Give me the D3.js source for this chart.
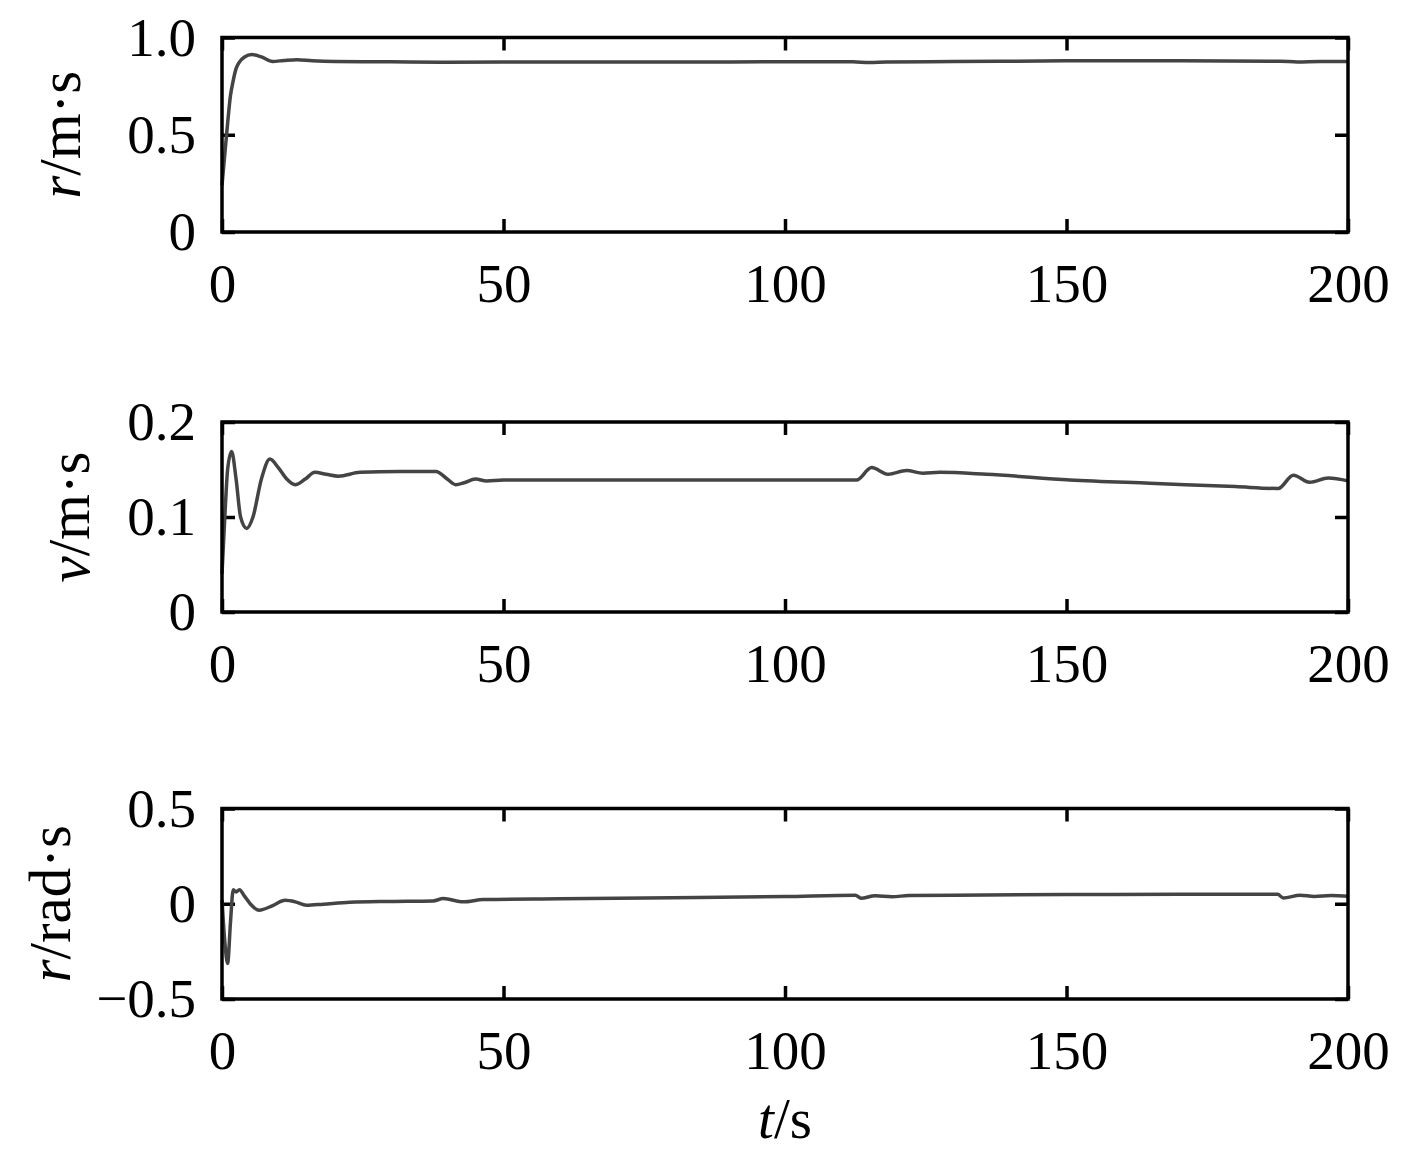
<!DOCTYPE html>
<html>
<head>
<meta charset="utf-8">
<script src="https://cdn.jsdelivr.net/npm/d3@7/dist/d3.min.js"></script>
<style>
  html, body { margin: 0; padding: 0; background: #fff; }
  svg { display: block; }
  text { font-family: 'Liberation Serif', 'Times New Roman', serif; fill: #000; }
</style>
</head>
<body>
<svg id="chart" width="1417" height="1157"></svg>
<script>
// ---------- data ----------
const xTicks = [0, 50, 100, 150, 200];
const xTickLabels = ["0", "50", "100", "150", "200"];

// panel 1: surge speed
const t1 = [0, 0.5, 1, 1.5, 2, 2.5, 3, 4, 5.3, 7, 9, 11, 13.3, 16, 20, 30, 40, 60, 80, 100, 112, 115, 118, 130, 150, 170, 188, 191, 195, 200];
const u1 = [0.24, 0.40, 0.56, 0.70, 0.78, 0.84, 0.87, 0.90, 0.912, 0.90, 0.877, 0.882, 0.886, 0.880, 0.876, 0.875, 0.873, 0.874, 0.874, 0.875, 0.875, 0.871, 0.874, 0.876, 0.880, 0.880, 0.878, 0.874, 0.876, 0.876];
const y1Ticks = [0, 0.5, 1.0];
const y1TickLabels = ["0", "0.5", "1.0"];

// panel 2: sway speed
const t2 = [0, 0.5, 1, 1.7, 2.5, 3.3, 4.4, 5.5, 7, 8.5, 10, 11.5, 13, 14.8, 16.5, 18.5, 20.7, 24.5, 31.6, 38, 40, 41.5, 43, 45, 47, 50, 60, 80, 100, 112.7, 115.4, 118.3, 121.6, 124.5, 127.5, 135.8, 150.6, 164.8, 180, 187.6, 190.3, 193.2, 196.5, 200];
const v2 = [0.04, 0.10, 0.15, 0.169, 0.14, 0.10, 0.088, 0.10, 0.14, 0.161, 0.152, 0.14, 0.134, 0.14, 0.147, 0.145, 0.143, 0.147, 0.148, 0.148, 0.140, 0.134, 0.136, 0.140, 0.138, 0.139, 0.139, 0.139, 0.139, 0.139, 0.152, 0.145, 0.149, 0.146, 0.147, 0.145, 0.139, 0.1355, 0.132, 0.130, 0.144, 0.1365, 0.141, 0.138];
const y2Ticks = [0, 0.1, 0.2];
const y2TickLabels = ["0", "0.1", "0.2"];

// panel 3: yaw rate
const t3 = [0, 0.5, 1.0, 1.5, 2.0, 2.5, 3.1, 4, 5, 6.6, 9, 11.2, 13, 15, 18, 22.7, 30, 37.5, 39.3, 42.9, 46.4, 60, 80, 100, 112.5, 113.5, 116, 119, 122, 130, 150, 170, 187.5, 188.5, 191.5, 194, 197, 200];
const r3 = [0.02, -0.2, -0.313, -0.1, 0.074, 0.062, 0.074, 0.04, 0.0, -0.034, -0.01, 0.018, 0.01, -0.008, -0.002, 0.008, 0.012, 0.015, 0.027, 0.01, 0.022, 0.026, 0.032, 0.038, 0.045, 0.029, 0.042, 0.037, 0.043, 0.045, 0.048, 0.05, 0.05, 0.03, 0.045, 0.038, 0.043, 0.04];
const y3Ticks = [-0.5, 0, 0.5];
const y3TickLabels = ["\u22120.5", "0", "0.5"];

// ---------- layout ----------
const svg = d3.select("#chart");
const left = 222, right = 1348;
const x = d3.scaleLinear().domain([0, 200]).range([left, right]);

const panels = [
  { t: t1, v: u1, top: 37.5, bottom: 232, dom: [0, 1], ticks: y1Ticks, labels: y1TickLabels,
    ylab: ["r", "/m\u00b7s"], labX: 80 },
  { t: t2, v: v2, top: 422, bottom: 612, dom: [0, 0.2], ticks: y2Ticks, labels: y2TickLabels,
    ylab: ["v", "/m\u00b7s"], labX: 89 },
  { t: t3, v: r3, top: 808.5, bottom: 999, dom: [-0.5, 0.5], ticks: y3Ticks, labels: y3TickLabels,
    ylab: ["r", "/rad\u00b7s"], labX: 70 }
];

const tickFont = 55, labelFont = 59;

panels.forEach(p => {
  const y = d3.scaleLinear().domain(p.dom).range([p.bottom, p.top]);
  const g = svg.append("g");

  const styleAxis = sel => {
    sel.select(".domain").remove();
    sel.selectAll(".tick line").attr("stroke", "#000").attr("stroke-width", 3.5);
    sel.selectAll(".tick text").attr("font-size", tickFont).attr("font-family", "'Liberation Serif', serif").attr("fill", "#000");
  };

  g.append("g").attr("transform", `translate(0,${p.bottom})`)
    .call(d3.axisBottom(x).tickValues(xTicks).tickFormat((d, i) => xTickLabels[i]).tickSizeInner(-13).tickSizeOuter(0).tickPadding(31))
    .call(styleAxis);
  g.append("g").attr("transform", `translate(0,${p.top})`)
    .call(d3.axisTop(x).tickValues(xTicks).tickFormat("").tickSizeInner(-13).tickSizeOuter(0))
    .call(styleAxis);
  g.append("g").attr("transform", `translate(${left},0)`)
    .call(d3.axisLeft(y).tickValues(p.ticks).tickFormat((d, i) => p.labels[i]).tickSizeInner(-13).tickSizeOuter(0).tickPadding(26))
    .call(styleAxis);
  g.append("g").attr("transform", `translate(${right},0)`)
    .call(d3.axisRight(y).tickValues(p.ticks).tickFormat("").tickSizeInner(-13).tickSizeOuter(0))
    .call(styleAxis);

  // data line
  const line = d3.line().x(d => x(d[0])).y(d => y(d[1])).curve(d3.curveMonotoneX);
  g.append("path")
    .datum(p.t.map((t, i) => [t, p.v[i]]))
    .attr("d", line)
    .attr("fill", "none")
    .attr("stroke", "#444444")
    .attr("stroke-width", 3.5)
    .attr("stroke-linejoin", "round");

  // frame
  g.append("rect")
    .attr("x", left).attr("y", p.top)
    .attr("width", right - left).attr("height", p.bottom - p.top)
    .attr("fill", "none").attr("stroke", "#000").attr("stroke-width", 3.5);

  // y label
  const cy = (p.top + p.bottom) / 2;
  const yl = g.append("text")
    .attr("transform", `translate(${p.labX},${cy}) rotate(-90)`)
    .attr("text-anchor", "middle")
    .attr("font-size", labelFont);
  yl.append("tspan").attr("font-style", "italic").text(p.ylab[0]);
  yl.append("tspan").text(p.ylab[1]);
});

// x label
const xl = svg.append("text")
  .attr("x", (left + right) / 2).attr("y", 1138)
  .attr("text-anchor", "middle")
  .attr("font-size", 57);
xl.append("tspan").attr("font-style", "italic").text("t");
xl.append("tspan").text("/s");
</script>
</body>
</html>
